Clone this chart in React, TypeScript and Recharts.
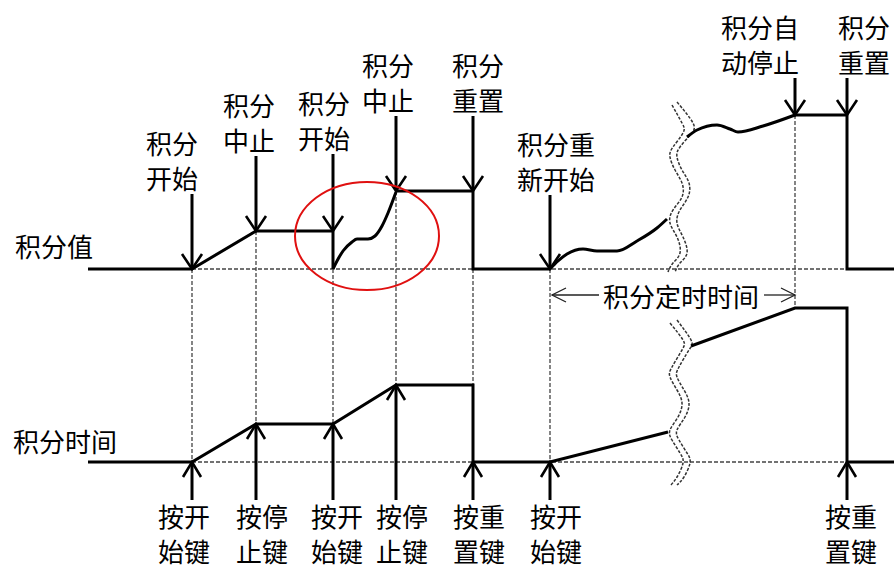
import React from 'react';
import { ComposedChart, Line, Scatter, XAxis, YAxis } from 'recharts';

// ---------- layout constants ----------
const W = 894;
const H = 568;
const VAL_BASE = 269; // pixel row of the 积分值 baseline
const TIME_BASE = 462; // pixel row of the 积分时间 baseline
const KEY_TAIL = 500;
const KEY_LINE1 = 515;
const KEY_LINE2 = 550;
const FONT = "'Noto Sans CJK SC', 'Noto Sans CJK JP', sans-serif";
const FS = 26;

// ---------- data (levels above each baseline, time on x) ----------
const valueSeg1: [number, number][] = [[88, 0], [192, 0], [256, 38], [333, 38], [333, 0]];
const valueCurve1: [number, number][] = [[333, 0], [337, 8], [343, 18], [352, 27], [357, 30], [368, 30], [375, 33], [382, 43], [388, 56], [396, 77]];
const valueSeg2: [number, number][] = [[396, 78], [473, 78], [473, 0], [550, 0]];
const valueCurve2: [number, number][] = [[550, 0], [558, 8], [567, 15], [583, 20], [597, 18], [617, 18], [637, 28], [657, 41], [667, 50]];
const valueCurve3: [number, number][] = [[687, 132], [697, 139], [717, 144], [730, 140], [738, 137], [763, 143], [795, 154]];
const valueSeg3: [number, number][] = [[795, 154], [847, 154], [847, 0], [894, 0]];

const timeSeg1: [number, number][] = [[88, 0], [192, 0], [256, 38], [333, 38], [396, 77], [473, 77], [473, 0], [550, 0], [668, 30]];
const timeSeg2: [number, number][] = [[691, 116], [795, 154], [847, 154], [847, 0], [894, 0]];

// events on the 积分值 trace
const eventTimes = [192, 256, 333, 396, 473, 550, 795, 847];
const eventLevels = [0, 38, 38, 78, 78, 0, 154, 154];
const eventLabels = [
  ['积分', '开始'], ['积分', '中止'], ['积分', '开始'], ['积分', '中止'],
  ['积分', '重置'], ['积分重', '新开始'], ['积分自', '动停止'], ['积分', '重置'],
];
const eventArrowLen = [75, 75, 77, 75, 75, 74, 37, 37];
const eventLabelDx = [-20, -7, -9, -8, 5, 6, -35, 17];

// key presses on the 积分时间 trace
const keyTimes = [192, 256, 333, 396, 473, 550, 847];
const keyLevels = [0, 38, 38, 77, 0, 0, 0];
const keyLabels = [
  ['按开', '始键'], ['按停', '止键'], ['按开', '始键'], ['按停', '止键'],
  ['按重', '置键'], ['按开', '始键'], ['按重', '置键'],
];
const keyLabelDx = [-8, 6, 4, 6, 6, 6, 4];

// dashed guides: value level at top, time level at bottom
const guideTimes = [192, 256, 333, 396, 473, 550, 795];
const guideValueLevels = [0, 38, 0, 78, 0, 0, 154];
const guideTimeLevels = [0, 38, 38, 77, 77, 0, 154];

// break marks (pixel rows)
const breakTopL: [number, number][] = [[672, 105], [682, 123], [683, 133], [673, 147], [670, 157], [675, 170], [682, 183], [682, 197], [673, 210], [670, 223], [677, 237], [680, 253], [673, 263], [668, 272]];
const breakTopR: [number, number][] = [[677, 102], [693, 123], [691, 134], [680, 147], [677, 157], [682, 170], [689, 183], [688, 197], [680, 210], [677, 223], [683, 237], [687, 253], [680, 263], [675, 272]];
const breakBotL: [number, number][] = [[670, 323], [683, 340], [682, 350], [672, 367], [670, 377], [677, 390], [682, 403], [678, 417], [670, 430], [672, 440], [680, 453], [683, 463], [677, 477], [670, 486]];
const breakBotR: [number, number][] = [[677, 320], [691, 340], [689, 350], [679, 367], [677, 377], [684, 390], [689, 403], [685, 417], [677, 430], [679, 440], [687, 453], [690, 463], [684, 477], [677, 485]];

const timerLabel = '积分定时时间';
const timerStart = 552;
const timerEnd = 795;
const sideLabels = ['积分值', '积分时间'];

// ---------- builders ----------
const vp = (a: [number, number][]) => a.map(([t, v]) => ({ t, y: VAL_BASE - v }));
const tp = (a: [number, number][]) => a.map(([t, v]) => ({ t, y: TIME_BASE - v }));
const pp = (a: [number, number][]) => a.map(([t, y]) => ({ t, y }));

const guideData: any[] = [];
guideTimes.forEach((t, i) => {
  guideData.push({ t, y: VAL_BASE - guideValueLevels[i] });
  guideData.push({ t, y: TIME_BASE - guideTimeLevels[i] });
  guideData.push({ t, y: null });
});
guideData.push({ t: 192, y: VAL_BASE }, { t: 894, y: VAL_BASE }, { t: 894, y: null });
guideData.push({ t: 192, y: TIME_BASE }, { t: 894, y: TIME_BASE });

const eventData = eventTimes.map((t, i) => ({
  t, y: VAL_BASE - eventLevels[i], l1: eventLabels[i][0], l2: eventLabels[i][1],
  len: eventArrowLen[i], dx: eventLabelDx[i],
}));
const keyData = keyTimes.map((t, i) => ({
  t, y: TIME_BASE - keyLevels[i], l1: keyLabels[i][0], l2: keyLabels[i][1], dx: keyLabelDx[i],
}));

const TIMER_Y = 295;
const timerLineA = [{ t: timerStart, y: TIMER_Y }, { t: 599, y: TIMER_Y }];
const timerLineB = [{ t: 764, y: TIMER_Y }, { t: timerEnd, y: TIMER_Y }];
const timerHeads = [{ t: timerStart, y: TIMER_Y, dir: -1 }, { t: timerEnd, y: TIMER_Y, dir: 1 }];
const timerText = [{ t: 681, y: TIMER_Y, text: timerLabel }];
const sideData = [{ t: 15, y: 245, text: sideLabels[0] }, { t: 13, y: 440, text: sideLabels[1] }];
const ellipseData = [{ t: 367, y: 236 }];

// ---------- shapes ----------
const TopArrow = (p: any) => {
  const { cx, cy, payload } = p;
  const tail = cy - payload.len;
  const lx = cx + payload.dx;
  return (
    <g>
      <line x1={cx} y1={tail} x2={cx} y2={cy - 1} stroke="#000" strokeWidth={3} />
      <polyline points={`${cx - 10},${cy - 15} ${cx},${cy} ${cx + 10},${cy - 15}`} fill="none" stroke="#000" strokeWidth={2.6} />
      <text x={lx} y={tail - 52} textAnchor="middle" dominantBaseline="central" fontFamily={FONT} fontSize={FS} fill="#000">{payload.l1}</text>
      <text x={lx} y={tail - 17} textAnchor="middle" dominantBaseline="central" fontFamily={FONT} fontSize={FS} fill="#000">{payload.l2}</text>
    </g>
  );
};

const KeyArrow = (p: any) => {
  const { cx, cy, payload } = p;
  const lx = cx + payload.dx;
  return (
    <g>
      <line x1={cx} y1={cy + 1} x2={cx} y2={KEY_TAIL} stroke="#000" strokeWidth={3} />
      <polyline points={`${cx - 9},${cy + 15} ${cx},${cy} ${cx + 9},${cy + 15}`} fill="none" stroke="#000" strokeWidth={2.6} />
      <text x={lx} y={KEY_LINE1} textAnchor="middle" dominantBaseline="central" fontFamily={FONT} fontSize={FS} fill="#000">{payload.l1}</text>
      <text x={lx} y={KEY_LINE2} textAnchor="middle" dominantBaseline="central" fontFamily={FONT} fontSize={FS} fill="#000">{payload.l2}</text>
    </g>
  );
};

const TimerHead = (p: any) => {
  const { cx, cy, payload } = p;
  const d = payload.dir;
  return (
    <polyline points={`${cx - d * 14},${cy - 7} ${cx},${cy} ${cx - d * 14},${cy + 7}`} fill="none" stroke="#222" strokeWidth={1.3} />
  );
};

const TextShape = (anchor: string) => (p: any) => {
  const { cx, cy, payload } = p;
  return (
    <text x={cx} y={cy} textAnchor={anchor} dominantBaseline="central" fontFamily={FONT} fontSize={FS} fill="#000">{payload.text}</text>
  );
};

const EllipseShape = (p: any) => (
  <ellipse cx={p.cx} cy={p.cy} rx={72} ry={54} fill="none" stroke="#e01010" strokeWidth={2} />
);

const solid = { stroke: '#000', strokeWidth: 3, dot: false, activeDot: false, isAnimationActive: false, dataKey: 'y', yAxisId: 'px', xAxisId: 'x' } as const;
const wave = { stroke: '#333', strokeWidth: 1.5, strokeDasharray: '3 1.5', dot: false, activeDot: false, isAnimationActive: false, dataKey: 'y', yAxisId: 'px', xAxisId: 'x', type: 'natural' } as const;

export default function App() {
  return (
    <div style={{ position: 'absolute', left: 0, top: 0, width: W, height: H, background: '#fff' }}>
      <ComposedChart width={W} height={H} margin={{ top: 0, right: 0, bottom: 0, left: 0 }}>
        <XAxis xAxisId="x" type="number" dataKey="t" domain={[0, W]} hide allowDataOverflow />
        <YAxis yAxisId="px" type="number" dataKey="y" domain={[0, H]} reversed hide allowDataOverflow />

        <Line data={guideData} dataKey="y" xAxisId="x" yAxisId="px" stroke="#444" strokeWidth={1.3} strokeDasharray="4 2" dot={false} activeDot={false} isAnimationActive={false} connectNulls={false} type="linear" />

        <Line {...wave} data={pp(breakTopL)} />
        <Line {...wave} data={pp(breakTopR)} />
        <Line {...wave} data={pp(breakBotL)} />
        <Line {...wave} data={pp(breakBotR)} />

        <Line {...solid} type="linear" data={vp(valueSeg1)} />
        <Line {...solid} type="monotone" data={vp(valueCurve1)} />
        <Line {...solid} type="linear" data={vp(valueSeg2)} />
        <Line {...solid} type="monotone" data={vp(valueCurve2)} />
        <Line {...solid} type="monotone" data={vp(valueCurve3)} />
        <Line {...solid} type="linear" data={vp(valueSeg3)} />
        <Line {...solid} type="linear" data={tp(timeSeg1)} />
        <Line {...solid} type="linear" data={tp(timeSeg2)} />

        <Line data={timerLineA} dataKey="y" xAxisId="x" yAxisId="px" stroke="#222" strokeWidth={1.3} dot={false} activeDot={false} isAnimationActive={false} />
        <Line data={timerLineB} dataKey="y" xAxisId="x" yAxisId="px" stroke="#222" strokeWidth={1.3} dot={false} activeDot={false} isAnimationActive={false} />

        <Scatter data={eventData} dataKey="y" xAxisId="x" yAxisId="px" shape={TopArrow} isAnimationActive={false} />
        <Scatter data={keyData} dataKey="y" xAxisId="x" yAxisId="px" shape={KeyArrow} isAnimationActive={false} />
        <Scatter data={timerHeads} dataKey="y" xAxisId="x" yAxisId="px" shape={TimerHead} isAnimationActive={false} />
        <Scatter data={timerText} dataKey="y" xAxisId="x" yAxisId="px" shape={TextShape('middle')} isAnimationActive={false} />
        <Scatter data={sideData} dataKey="y" xAxisId="x" yAxisId="px" shape={TextShape('start')} isAnimationActive={false} />
        <Scatter data={ellipseData} dataKey="y" xAxisId="x" yAxisId="px" shape={EllipseShape} isAnimationActive={false} />
      </ComposedChart>
    </div>
  );
}
